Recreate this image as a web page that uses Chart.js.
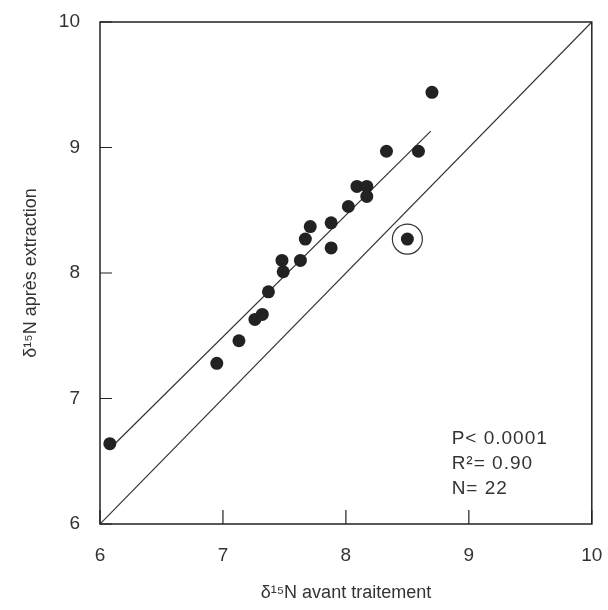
<!DOCTYPE html>
<html>
<head>
<meta charset="UTF-8" />
<title>δ15N scatter</title>
<script src="https://cdn.jsdelivr.net/npm/chart.js@4.4.0/dist/chart.umd.min.js"></script>
<style>
  html, body { margin: 0; padding: 0; background: #fff; }
  .chartBox { width: 608px; height: 610px; }
</style>
</head>
<body>
<div class="chartBox"><canvas id="myChart"></canvas></div>
<script>
// values
var avantX = [6.08, 6.95, 7.13, 7.26, 7.32, 7.37, 7.49, 7.48, 7.63, 7.67, 7.71, 7.88, 7.88, 8.02, 8.09, 8.17, 8.17, 8.33, 8.50, 8.59, 8.70];
var apresY = [6.64, 7.28, 7.46, 7.63, 7.67, 7.85, 8.01, 8.10, 8.10, 8.27, 8.37, 8.20, 8.40, 8.53, 8.69, 8.69, 8.61, 8.97, 8.27, 8.97, 9.44];
var outlier = [{x: 8.50, y: 8.27}];
var fitLine = [{x: 6.08, y: 6.60}, {x: 8.69, y: 9.13}];
var oneToOne = [{x: 6, y: 6}, {x: 10, y: 10}];
var tickValues = [6, 7, 8, 9, 10];
var statsText = ['P< 0.0001', 'R²= 0.90', 'N= 22'];

var points = [];
for (let i = 0; i < avantX.length; i++) {
  points.push({x: avantX[i], y: apresY[i]});
}

const textColor = '#333';
const fontFam = '"Liberation Sans", Arial, sans-serif';

// frame, inward ticks, stats text
const framePlugin = {
  id: 'frame',
  afterDraw(chart) {
    const ctx = chart.ctx;
    const a = chart.chartArea;
    const xs = chart.scales.x, ys = chart.scales.y;
    ctx.save();
    ctx.strokeStyle = '#222';
    ctx.lineWidth = 1.5;
    ctx.strokeRect(a.left, a.top, a.right - a.left, a.bottom - a.top);
    ctx.lineWidth = 1.2;
    ctx.beginPath();
    tickValues.forEach(function (v) {
      const px = xs.getPixelForValue(v);
      ctx.moveTo(px, a.bottom);
      ctx.lineTo(px, a.bottom - 14);
      const py = ys.getPixelForValue(v);
      ctx.moveTo(a.left, py);
      ctx.lineTo(a.left + 12, py);
    });
    ctx.stroke();

    ctx.fillStyle = textColor;
    ctx.font = '19px ' + fontFam;
    ctx.letterSpacing = '1px';
    ctx.textBaseline = 'alphabetic';
    const x0 = xs.getPixelForValue(8.86);
    statsText.forEach(function (t, i) {
      ctx.fillText(t, x0, ys.getPixelForValue(6.64) + i * 25);
    });
    ctx.restore();
  }
};

const ctx = document.getElementById('myChart').getContext('2d');
const myChart = new Chart(ctx, {
  type: 'scatter',
  data: {
    datasets: [
      {
        label: 'points',
        data: points,
        backgroundColor: '#222',
        borderWidth: 0,
        pointRadius: 6.5
      },
      {
        label: 'regression',
        type: 'line',
        data: fitLine,
        borderColor: '#333',
        borderWidth: 1.2,
        pointRadius: 0,
        fill: false
      },
      {
        label: '1:1',
        type: 'line',
        data: oneToOne,
        borderColor: '#333',
        borderWidth: 1.2,
        pointRadius: 0,
        fill: false
      },
      {
        label: 'outlier',
        data: outlier,
        backgroundColor: 'rgba(0,0,0,0)',
        borderColor: '#333',
        borderWidth: 1.2,
        pointRadius: 15
      }
    ]
  },
  options: {
    responsive: true,
    maintainAspectRatio: false,
    animation: false,
    layout: { padding: { top: 22, right: 14, left: 0, bottom: 0 } },
    plugins: {
      legend: { display: false },
      tooltip: { enabled: false }
    },
    scales: {
      x: {
        type: 'linear',
        min: 6,
        max: 10,
        afterFit: function (s) { s.height = 86; s.paddingLeft = 0; s.paddingRight = 0; },
        afterBuildTicks: function (s) { s.ticks = tickValues.map(v => ({value: v})); },
        grid: { display: false, drawTicks: false },
        border: { display: false },
        ticks: { padding: 20, color: textColor, font: { size: 19, family: fontFam } },
        title: {
          display: true,
          text: 'δ¹⁵N avant traitement',
          color: textColor,
          font: { size: 18, family: fontFam },
          padding: { top: 0, bottom: 6 }
        }
      },
      y: {
        type: 'linear',
        min: 6,
        max: 10,
        afterFit: function (s) { s.width = 100; s.paddingTop = 0; s.paddingBottom = 0; },
        afterBuildTicks: function (s) { s.ticks = tickValues.map(v => ({value: v})); },
        grid: { display: false, drawTicks: false },
        border: { display: false },
        ticks: { padding: 20, color: textColor, font: { size: 19, family: fontFam } },
        title: {
          display: true,
          text: 'δ¹⁵N après extraction',
          color: textColor,
          font: { size: 18, family: fontFam },
          padding: { top: 20, bottom: 0 }
        }
      }
    }
  },
  plugins: [framePlugin]
});
</script>
</body>
</html>
